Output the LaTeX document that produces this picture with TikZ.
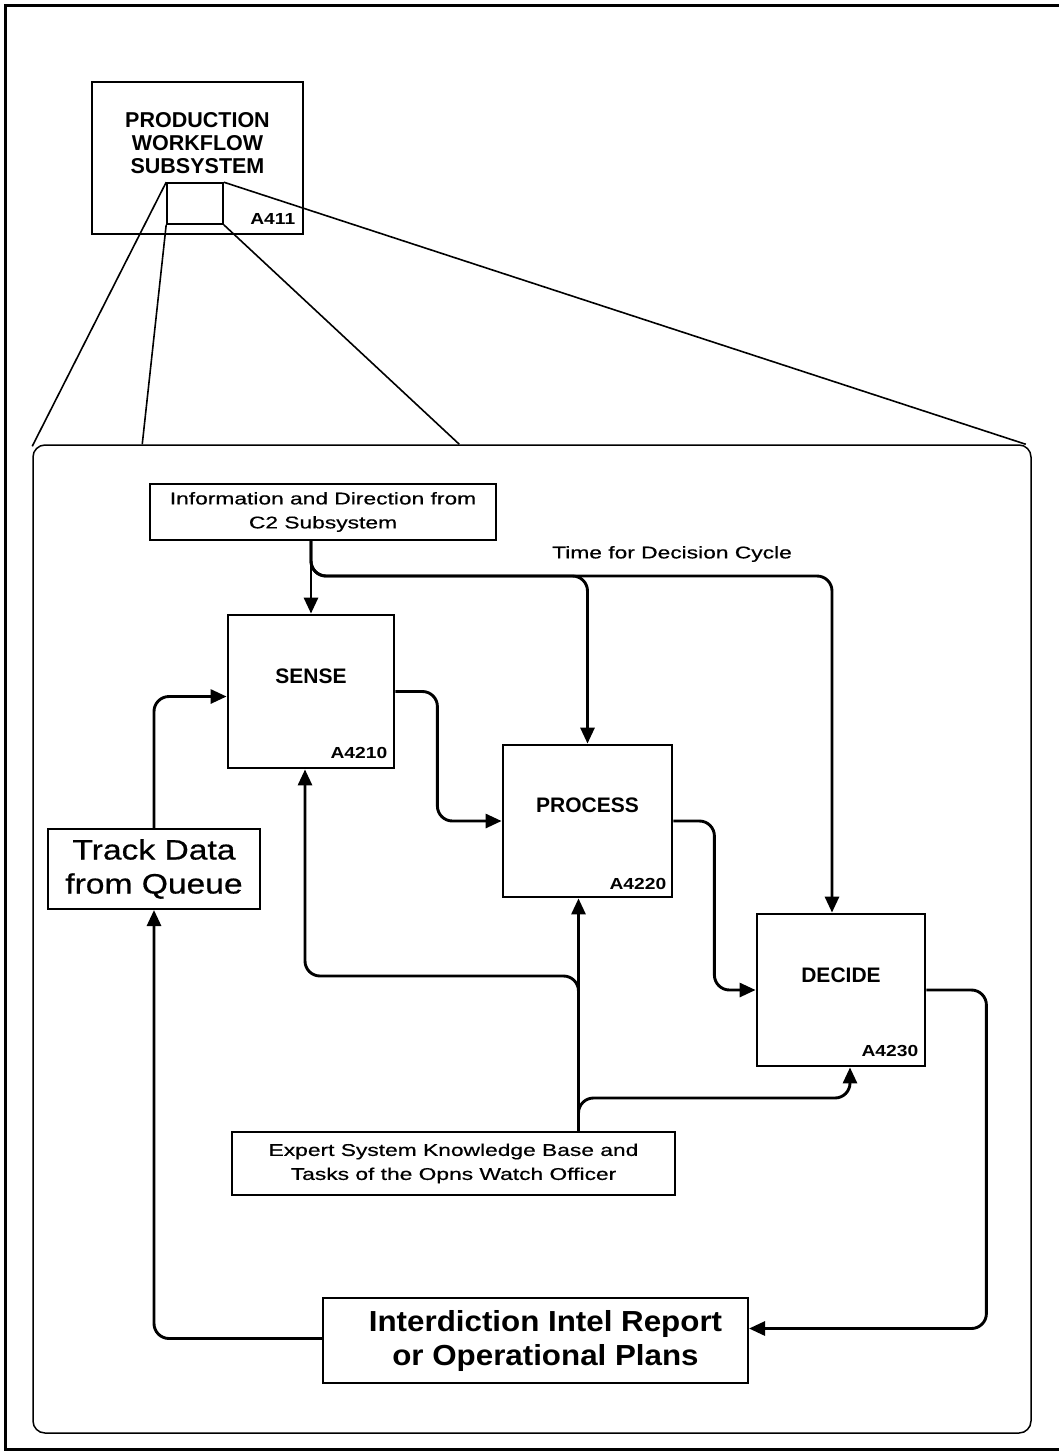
\documentclass[tikz,border=0pt]{standalone}
\usepackage{fontspec}
\setmainfont{Liberation Sans}
\newfontfamily\textfam[FakeStretch=1.34, FakeBold=0.6]{Liberation Sans}
\newfontfamily\bigfam[FakeStretch=1.2, FakeBold=0.6]{Liberation Sans}
\newfontfamily\repfam[FakeStretch=1.08]{Liberation Sans}
\newfontfamily\codefam[FakeStretch=1.2]{Liberation Sans}
\usetikzlibrary{arrows.meta}

\begin{document}
\begin{tikzpicture}[x=1pt, y=-1pt,
  frame/.style={line width=3pt},
  panel/.style={draw, line width=1.5pt, rounded corners=12pt, inner sep=0pt},
  fan/.style={line width=1.6pt},
  win/.style={draw, line width=1.6pt, inner sep=0pt},
  actbox/.style={draw, line width=2.8pt, inner sep=0pt},
  databox/.style={draw, line width=2pt, inner sep=0pt},
  title/.style={inner sep=0pt, align=center, font=\fontsize{21}{23}\selectfont\bfseries},
  code/.style={inner sep=0pt, anchor=base east, font=\codefam\fontsize{16}{18}\selectfont\bfseries},
  txt/.style={inner sep=0pt, align=center, font=\textfam\fontsize{17}{24}\selectfont},
  bigtxt/.style={inner sep=0pt, align=center, font=\bigfam\fontsize{28}{34}\selectfont},
  reptxt/.style={inner sep=0pt, align=center, font=\repfam\fontsize{29}{34}\selectfont\bfseries},
  flow/.style={line width=2.9pt, rounded corners=15pt, -{Triangle[length=16pt,width=14pt]}},
]
\useasboundingbox (0,0) rectangle (1059,1454);

% page frame
\draw[frame] (1059,5) -- (5,5) -- (5,1449) -- (1059,1449);

% parent activity with the window that is expanded below
\node[actbox, minimum width=211pt, minimum height=152pt] (parent) at (197.5,158) {};
\node[title, font=\fontsize{21.5}{23}\selectfont\bfseries] (parentT) at ([yshift=15pt]parent.center) {PRODUCTION\\WORKFLOW\\SUBSYSTEM};
\node[code] (parentC) at ([xshift=-9pt,yshift=11pt]parent.south east) {A411};
\node[win, minimum width=56pt, minimum height=41pt] (win) at (195,203.5) {};

% expanded panel
\node[panel, minimum width=998pt, minimum height=988pt] (panel) at (532,939) {};

\draw[fan] (win.north west) -- ([yshift=-2pt]panel.north west);
\draw[fan] (win.south west) -- ([xshift=110pt]panel.north west);
\draw[fan] (win.south east) -- ([xshift=427pt]panel.north west);
\draw[fan] (win.north east) -- ([xshift=-6pt]panel.north east);

% activities
\node[actbox, minimum width=166pt, minimum height=153pt] (sense) at (311,691.5) {};
\node[title] (senseT) at ([yshift=15pt]sense.center) {SENSE};
\node[code] (senseC) at ([xshift=-8pt,yshift=11pt]sense.south east) {A4210};

\node[actbox, minimum width=169pt, minimum height=152pt] (process) at (587.5,821) {};
\node[title] (processT) at ([yshift=16pt]process.center) {PROCESS};
\node[code] (processC) at ([xshift=-7pt,yshift=9pt]process.south east) {A4220};

\node[actbox, minimum width=168pt, minimum height=152pt] (decide) at (841,990) {};
\node[title] (decideT) at ([yshift=15pt]decide.center) {DECIDE};
\node[code] (decideC) at ([xshift=-8pt,yshift=11pt]decide.south east) {A4230};

% inputs and outputs
\node[databox, minimum width=346pt, minimum height=56pt] (info) at (323,512) {};
\node[txt] (infoT) at (info.center) {Information and Direction from\\C2 Subsystem};

\node[databox, minimum width=443pt, minimum height=63pt] (kb) at (453.5,1163.5) {};
\node[txt] (kbT) at (kb.center) {Expert System Knowledge Base and\\Tasks of the Opns Watch Officer};

\node[databox, minimum width=212pt, minimum height=80pt] (track) at (154,869) {};
\node[bigtxt] (trackT) at (track.center) {Track Data\\from Queue};

\node[databox, minimum width=425pt, minimum height=85pt] (report) at (535.5,1340.5) {};
\node[reptxt] (reportT) at ([xshift=10pt]report.center) {Interdiction Intel Report\\or Operational Plans};

\node[txt] (timeT) at (672,554) {Time for Decision Cycle};

% control from the C2 subsystem
\coordinate (infotap) at (info.south -| sense.north);
\coordinate (timebar) at (0,576);
\coordinate (procin) at (process.north);
\coordinate (decin) at ([xshift=-9pt]decide.north);
\draw[flow] (infotap) -- (sense.north);
\draw[flow] (infotap) -- (infotap |- timebar) -- (procin |- timebar) -- (procin);
\draw[flow] (infotap) -- (infotap |- timebar) -- (decin |- timebar) -- (decin);

% mechanisms from the knowledge base
\coordinate (procbot) at ([xshift=-9pt]process.south);
\coordinate (kbtap) at (kb.north -| procbot);
\coordinate (sensebot) at ([xshift=-6pt]sense.south);
\coordinate (decbot) at ([xshift=9pt]decide.south);
\coordinate (crossbar) at (0,976);
\coordinate (lowbar) at (0,1098);
\draw[flow] (kbtap) -- (procbot);
\draw[flow] (kbtap) -- (kbtap |- crossbar) -- (sensebot |- crossbar) -- (sensebot);
\draw[flow] (kbtap) -- (kbtap |- lowbar) -- (decbot |- lowbar) -- (decbot);

% main flow
\draw[flow] (track.north) |- ([yshift=-5pt]sense.west);
\draw[flow] (sense.east) -- ++(42,0) |- (process.west);
\draw[flow] (process.east) -- ++(41,0) |- (decide.west);
\draw[flow] (decide.east) -- ++(60,0) |- ([yshift=12pt]report.east);
\draw[flow] ([yshift=2pt]report.west) -| (track.south);
\end{tikzpicture}
\end{document}
